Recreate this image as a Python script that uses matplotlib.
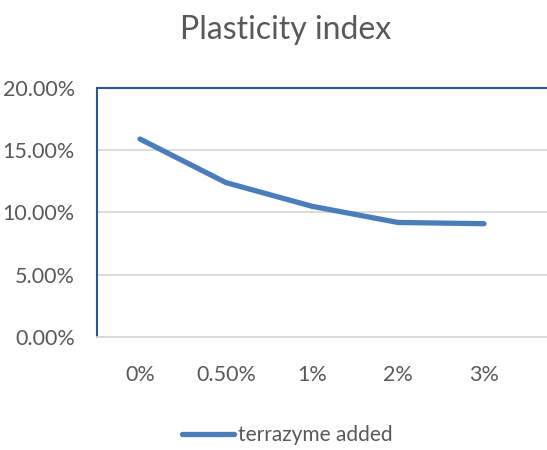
import matplotlib.pyplot as plt
from matplotlib.ticker import FuncFormatter

categories = ["0%", "0.50%", "1%", "2%", "3%"]
plasticity_index = [15.9, 12.4, 10.5, 9.2, 9.1]
y_ticks = [0, 5, 10, 15, 20]


def plasticity_chart():
    plt.rcParams["font.family"] = ["Lato", "DejaVu Sans"]
    fig = plt.figure(figsize=(5.47, 4.5), dpi=100)
    ax = fig.add_axes([97 / 547, 113 / 450, 450 / 547, 249 / 450])

    x = range(len(categories))
    ax.plot(x, plasticity_index, color="#4a7ebb", linewidth=3.8,
            solid_capstyle="round", solid_joinstyle="round",
            label="terrazyme added", zorder=3)

    ax.set_xlim(-0.5, 450 / 86 - 0.5)
    ax.set_ylim(0, 20)
    ax.set_xticks(list(x))
    ax.set_xticklabels(categories)
    ax.set_yticks(y_ticks)
    ax.yaxis.set_major_formatter(FuncFormatter(lambda v, p: f"{v:.2f}%"))
    ax.tick_params(length=0, labelsize=15.5, labelcolor="#595959")
    ax.tick_params(axis="x", pad=20)
    ax.tick_params(axis="y", pad=16)

    ax.grid(True, axis="y", color="#d9d9d9", linewidth=1.3)
    ax.set_axisbelow(True)
    ax.spines["right"].set_visible(False)
    ax.spines["left"].set_color("#2f5597")
    ax.spines["left"].set_linewidth(1.5)
    ax.spines["top"].set_color("#2f5597")
    ax.spines["top"].set_linewidth(1.5)
    ax.spines["bottom"].set_color("#d9d9d9")
    ax.spines["bottom"].set_linewidth(1.3)

    fig.text(286 / 547, 1 - 30 / 450, "Plasticity index", ha="center",
             va="center", fontsize=23, color="#595959")
    fig.legend(loc="center", bbox_to_anchor=(287 / 547, 1 - 435 / 450),
               frameon=False, fontsize=15, handlelength=2.5,
               handletextpad=0.2, labelcolor="#595959")

    fig.savefig("out.png", dpi=100)


if __name__ == '__main__':
    plasticity_chart()
